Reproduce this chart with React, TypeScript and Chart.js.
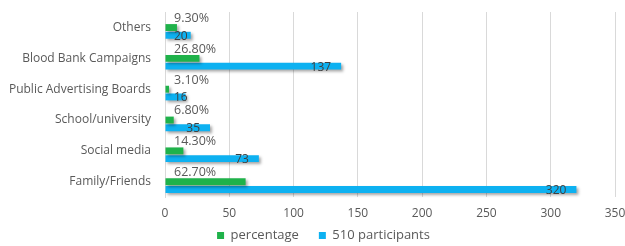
import React, { useEffect, useRef } from "react";
import { Chart, registerables } from "chart.js";

Chart.register(...registerables);

const categories = [
  "Others",
  "Blood Bank Campaigns",
  "Public Advertising Boards",
  "School/university",
  "Social media",
  "Family/Friends",
];
const percentageValues = [9.3, 26.8, 3.1, 6.8, 14.3, 62.7];
const participantValues = [20, 137, 16, 35, 73, 320];
const xTicks = [0, 50, 100, 150, 200, 250, 300, 350];

const FONT = "'Open Sans', sans-serif";
const TEXT = "#595959";
const SHIFT = 4;

const legendPlacer = {
  id: "legendPlacer",
  beforeDraw(chart: any) {
    const lg = chart.legend;
    if (!lg) return;
    const h = lg.bottom - lg.top;
    lg.left = 32;
    lg.top = 209;
    lg.bottom = 209 + h;
  },
};

const barEffects = {
  id: "barEffects",
  beforeDatasetsDraw(chart: any) {
    const ctx = chart.ctx;
    ctx.save();
    ctx.translate(0, SHIFT);
    ctx.shadowColor = "rgba(0,0,0,0.35)";
    ctx.shadowBlur = 3;
    ctx.shadowOffsetX = 2;
    ctx.shadowOffsetY = 2;
  },
  afterDatasetsDraw(chart: any) {
    const ctx = chart.ctx;
    ctx.restore();
    const x0 = chart.scales.x.getPixelForValue(0);
    ctx.save();
    ctx.translate(0, SHIFT);
    ctx.font = `12.5px ${FONT}`;
    const m0 = chart.getDatasetMeta(0);
    m0.data.forEach((bar: any, i: number) => {
      const top = bar.y - bar.height / 2;
      ctx.fillStyle = TEXT;
      ctx.textAlign = "left";
      ctx.textBaseline = "bottom";
      ctx.fillText(percentageValues[i].toFixed(2) + "%", x0 + 9, top + 0.5);
    });
    ctx.font = `12px ${FONT}`;
    const m1 = chart.getDatasetMeta(1);
    m1.data.forEach((bar: any, i: number) => {
      const txt = String(participantValues[i]);
      const w = ctx.measureText(txt).width;
      const left = Math.max(x0 + 9, bar.x - 10 - w);
      ctx.fillStyle = "#404040";
      ctx.textAlign = "left";
      ctx.textBaseline = "middle";
      ctx.fillText(txt, left, bar.y + 1);
    });
    ctx.restore();
  },
};

export default function App() {
  const ref = useRef<HTMLCanvasElement>(null);
  useEffect(() => {
    if (!ref.current) return;
    const chart = new Chart(ref.current, {
      type: "bar",
      data: {
        labels: categories,
        datasets: [
          {
            label: "percentage",
            data: percentageValues,
            backgroundColor: "#1fb24a",
            categoryPercentage: 0.5,
            barPercentage: 0.9,
          },
          {
            label: "510 participants",
            data: participantValues,
            backgroundColor: "#0db1f1",
            categoryPercentage: 0.5,
            barPercentage: 0.9,
          },
        ],
      },
      options: {
        indexAxis: "y",
        animation: false,
        responsive: false,
        maintainAspectRatio: false,
        layout: { padding: { top: 12, right: 10, left: 0, bottom: -24 } },
        plugins: {
          legend: {
            position: "bottom",
            labels: {
              boxWidth: 7,
              boxHeight: 7,
              padding: 20,
              color: TEXT,
              font: { family: FONT, size: 13 },
            },
          },
          tooltip: { enabled: false },
        },
        scales: {
          x: {
            min: 0,
            max: 350,
            afterBuildTicks(scale: any) {
              scale.ticks = xTicks.map((v) => ({ value: v }));
            },
            afterFit(scale: any) {
              scale.height = 30;
              scale.paddingLeft = 0;
              scale.paddingRight = 0;
            },
            grid: { color: "#d9d9d9", drawTicks: false },
            border: { display: false },
            ticks: {
              color: TEXT,
              padding: 9,
              font: { family: FONT, size: 12 },
            },
          },
          y: {
            afterFit(scale: any) {
              scale.width = 165;
              scale.paddingTop = 0;
              scale.paddingBottom = 0;
            },
            grid: { display: false, drawTicks: false },
            border: { display: true, color: "#d9d9d9" },
            ticks: {
              color: TEXT,
              padding: 14,
              font: { family: FONT, size: 12 },
            },
          },
        },
      },
      plugins: [legendPlacer, barEffects],
    });
    return () => chart.destroy();
  }, []);
  return (
    <div style={{ position: "fixed", left: 0, top: 0, width: 625, height: 246, background: "#fff" }}>
      <canvas ref={ref} width={625} height={246} style={{ width: 625, height: 246 }} />
    </div>
  );
}
